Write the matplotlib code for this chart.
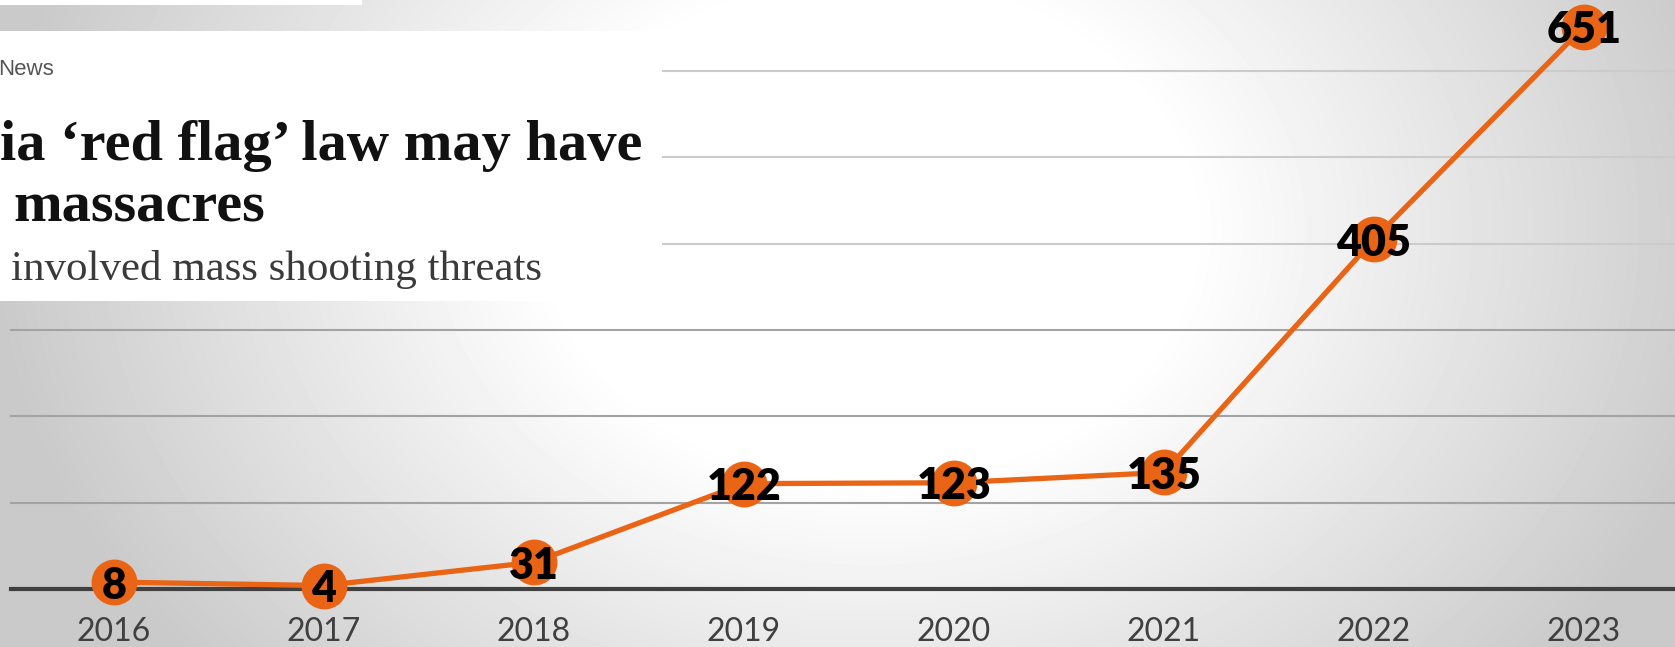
import numpy as np
import matplotlib
matplotlib.use("Agg")
from matplotlib import pyplot as plt
from matplotlib.patches import Rectangle

#################################
# data
#################################
years = [2016, 2017, 2018, 2019, 2020, 2021, 2022, 2023]
counts = [8, 4, 31, 122, 123, 135, 405, 651]
grid_vals = [100, 200, 300, 400, 500, 600]

news_tag = "News"
headline_1 = "ia \u2018red flag\u2019 law may have"
headline_2 = "massacres"
subhead = "involved mass shooting threats"

#################################
# parameters
#################################
W, H = 1675, 647
orange = "#EA6416"

def fx(px):
    return px / W

def fy(py):
    return 1 - py / H

fig = plt.figure(figsize=(W / 100, H / 100), dpi=100)

# background: soft grey vignette, white towards the middle
bg = fig.add_axes([0, 0, 1, 1], zorder=-1)
xx, yy = np.meshgrid(np.arange(W), np.arange(H))
d = np.sqrt((xx - 870) ** 2 + ((yy - 230) * 1.3) ** 2)
shade = 1 - 0.21 * np.clip((d - 320) / 560, 0, 1)
bg.imshow(shade, cmap="gray", vmin=0, vmax=1, aspect="auto",
          extent=[0, W, H, 0], interpolation="bilinear")
bg.set_axis_off()

# main chart
ax = fig.add_axes([0, 58 / H, 1, 589 / H])
ax.set_facecolor("none")
ax.set_xlim(2016 - 114 / 210, 2016 + (W - 114) / 210)
ax.set_ylim(0, 682)

for g in grid_vals:
    col = "#a3a3a3" if g <= 300 else "#cbcbcb"
    ax.axhline(g, xmin=11 / W, xmax=1, color=col, lw=1.5, zorder=1)
ax.axhline(0, xmin=11 / W, xmax=1, color="#404040", lw=3.0, zorder=2,
           clip_on=False)

ax.plot(years, counts, color=orange, lw=3.8, marker="o", markersize=32,
        markerfacecolor=orange, markeredgecolor=orange, zorder=3,
        clip_on=False)

for x, v in zip(years, counts):
    ax.text(x, v, str(v), ha="center", va="center_baseline", fontsize=31,
            fontfamily="Lato", fontweight="heavy", color="black", zorder=4)

ax.set_xticks(years)
ax.set_xticklabels([str(y) for y in years], fontsize=23, fontfamily="Lato",
                   fontweight="normal", color="#404040")
ax.tick_params(axis="x", length=0, pad=20)
ax.set_yticks([])
for s in ax.spines.values():
    s.set_visible(False)

#################################
# pasted news clipping
#################################
fig.patches.append(Rectangle((0, fy(5)), fx(362), 5 / H, transform=fig.transFigure,
                             facecolor="white", edgecolor="none", zorder=5))
fig.patches.append(Rectangle((0, fy(301)), fx(662), 270 / H, transform=fig.transFigure,
                             facecolor="white", edgecolor="none", zorder=5))

fig.text(fx(-2), fy(75), news_tag, fontsize=16, fontfamily="Liberation Sans",
         color="#555555", va="baseline", zorder=6)
fig.text(fx(0), fy(160), headline_1, fontsize=42, fontfamily="Liberation Serif",
         fontweight="bold", color="#111111", va="baseline", zorder=6)
fig.text(fx(13), fy(221), headline_2, fontsize=42, fontfamily="Liberation Serif",
         fontweight="bold", color="#111111", va="baseline", zorder=6)
fig.text(fx(11), fy(280), subhead, fontsize=31, fontfamily="Liberation Serif",
         color="#3a3a3a", va="baseline", zorder=6)

fig.savefig("out.png", dpi=100)
